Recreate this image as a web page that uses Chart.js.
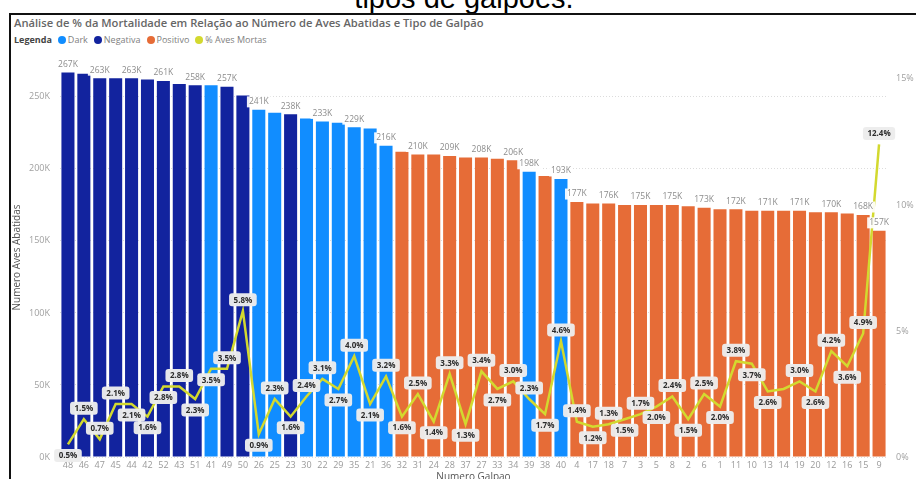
<!DOCTYPE html>
<html>
<head>
<meta charset="utf-8">
<script src="https://cdn.jsdelivr.net/npm/chart.js@4.4.1/dist/chart.umd.min.js"></script>
<style>
  html, body { margin: 0; padding: 0; background: #fff; width: 916px; height: 479px; overflow: hidden; }
  #cabecalho { position: absolute; left: 6px; width: 916px; top: -16px; text-align: center;
    font: 29px/29px 'Liberation Sans', Arial, sans-serif; color: #000; white-space: nowrap; }
  #moldura { position: absolute; left: 9px; top: 13px; width: 940px; height: 500px;
    border-top: 2px solid #111; border-left: 2px solid #111; }
  #titulo { position: absolute; left: 14px; top: 15px; font: 600 11.2px 'Open Sans', sans-serif;
    color: #666; white-space: nowrap; }
  #legenda { position: absolute; left: 14px; top: 33px; font: 9px 'Open Sans', sans-serif;
    color: #808080; display: flex; align-items: center; white-space: nowrap; }
  #legenda b { color: #444; margin-right: 6px; }
  #legenda span.item { display: flex; align-items: center; margin-right: 6px; }
  #legenda i { display: inline-block; width: 8px; height: 8px; border-radius: 50%; margin-right: 2px; }
  #area { position: absolute; left: 0; top: 0; width: 916px; height: 490px; }
</style>
</head>
<body>
<div id="cabecalho">tipos de galpões.</div>
<div id="moldura"></div>
<div id="titulo">Análise de % da Mortalidade em Relação ao Número de Aves Abatidas e Tipo de Galpão</div>
<div id="legenda"></div>
<div id="area"><canvas id="grafico"></canvas></div>
<script>
// Galpões ordenados pelo número de aves abatidas
const galpoes = ['48','46','47','45','44','42','52','43','51','41','49','50','26','25','23','30','22','29','35','21','36',
  '32','31','24','28','37','27','33','34','39','38','40','4','17','18','7','3','5','8','2','6','1','11','10','13','14',
  '19','20','12','16','15','9'];

const avesAbatidas = [267000,266000,263000,263000,263000,262000,261000,259000,258000,258000,257000,251000,
  241000,239000,238000,235000,233000,232000,229000,228000,216000,212000,210000,210000,209000,208000,208000,
  207000,206000,198000,195000,193000,177000,176000,176000,175000,175000,175000,175000,174000,173000,172000,
  172000,171000,171000,171000,171000,170000,170000,169000,168000,157000];

const tipoGalpao = ['Negativa','Negativa','Negativa','Negativa','Negativa','Negativa','Negativa','Negativa','Negativa',
  'Dark','Negativa','Negativa','Dark','Dark','Negativa','Dark','Dark','Dark','Dark','Dark','Dark',
  'Positivo','Positivo','Positivo','Positivo','Positivo','Positivo','Positivo','Positivo','Dark','Positivo','Dark',
  'Positivo','Positivo','Positivo','Positivo','Positivo','Positivo','Positivo','Positivo','Positivo','Positivo',
  'Positivo','Positivo','Positivo','Positivo','Positivo','Positivo','Positivo','Positivo','Positivo','Positivo'];

const pctAvesMortas = [0.5,1.5,0.7,2.1,2.1,1.6,2.8,2.8,2.3,3.5,3.5,5.8,0.9,2.3,1.6,2.4,3.1,2.7,4.0,2.1,3.2,
  1.6,2.5,1.4,3.3,1.3,3.4,2.7,3.0,2.3,1.7,4.6,1.4,1.2,1.3,1.5,1.7,2.0,2.4,1.5,2.5,2.0,3.8,3.7,2.6,2.7,
  3.0,2.6,4.2,3.6,4.9,12.4];

// marcas dos eixos
const ticksAves = [0, 50000, 100000, 150000, 200000, 250000];
const ticksPct = [0, 5, 10, 15];

// posição do rótulo da linha: A = acima, B = abaixo, '' = sem rótulo
const posRotulo = ['B','A','A','A','B','B','B','A','B','B','A','A','B','A','B','A','A','B','A','B','A',
  'B','A','B','A','B','A','B','A','A','B','A','A','B','A','B','A','B','A','B','A','B','A','B','B','',
  'A','B','A','B','A','A'];

const coresTipo = { Dark: '#118DFF', Negativa: '#12239E', Positivo: '#E66C37' };
const corLinha = '#d3d92f';
const fonte = "'Open Sans', sans-serif";

// legenda
const legenda = document.getElementById('legenda');
legenda.innerHTML = '<b>Legenda</b>' +
  ['Dark', 'Negativa', 'Positivo'].map(t => `<span class="item"><i style="background:${coresTipo[t]}"></i>${t}</span>`).join('') +
  `<span class="item"><i style="background:${corLinha}"></i>% Aves Mortas</span>`;

function caixaArredondada(ctx, x, y, w, h, r) {
  ctx.beginPath();
  ctx.moveTo(x + r, y);
  ctx.arcTo(x + w, y, x + w, y + h, r);
  ctx.arcTo(x + w, y + h, x, y + h, r);
  ctx.arcTo(x, y + h, x, y, r);
  ctx.arcTo(x, y, x + w, y, r);
  ctx.closePath();
}

// rótulos das barras (sem sobreposição) e da linha de mortalidade
const rotulosPlugin = {
  id: 'rotulos',
  afterDatasetsDraw(chart) {
    const ctx = chart.ctx;
    const linha = chart.getDatasetMeta(0);
    const barras = chart.getDatasetMeta(1);
    ctx.save();
    ctx.textAlign = 'center';
    ctx.textBaseline = 'middle';

    ctx.font = '8.5px ' + fonte;
    let ultimo = null;
    barras.data.forEach((bar, i) => {
      const txt = Math.round(avesAbatidas[i] / 1000) + 'K';
      const w = ctx.measureText(txt).width + 4, h = 11;
      const x = bar.x, y = bar.y - 8;
      if (ultimo && Math.abs(x - ultimo.x) < (w + ultimo.w) / 2 && Math.abs(y - ultimo.y) < h) return;
      ctx.fillStyle = 'rgba(255,255,255,0.92)';
      ctx.fillRect(x - w / 2, y - h / 2, w, h);
      ctx.fillStyle = '#8c8c8c';
      ctx.fillText(txt, x, y);
      ultimo = { x, y, w };
    });

    ctx.font = 'bold 8px ' + fonte;
    linha.data.forEach((pt, i) => {
      const pos = posRotulo[i];
      if (!pos) return;
      const txt = pctAvesMortas[i].toFixed(1) + '%';
      const w = ctx.measureText(txt).width + 9, h = 13;
      const y = pos === 'A' ? pt.y - 11 : pt.y + 11;
      caixaArredondada(ctx, pt.x - w / 2, y - h / 2, w, h, 3);
      ctx.fillStyle = 'rgba(236,236,236,0.97)';
      ctx.fill();
      ctx.fillStyle = '#2b2b2b';
      ctx.fillText(txt, pt.x, y + 0.5);
    });
    ctx.restore();
  }
};

new Chart(document.getElementById('grafico'), {
  data: {
    labels: galpoes,
    datasets: [
      {
        type: 'line',
        label: '% Aves Mortas',
        data: pctAvesMortas,
        yAxisID: 'y1',
        borderColor: corLinha,
        borderWidth: 2.5,
        pointRadius: 0,
        tension: 0,
        order: 0
      },
      {
        type: 'bar',
        label: 'Numero Aves Abatidas',
        data: avesAbatidas,
        yAxisID: 'y',
        backgroundColor: tipoGalpao.map(t => coresTipo[t]),
        barPercentage: 1,
        categoryPercentage: 0.82,
        order: 1
      }
    ]
  },
  options: {
    responsive: true,
    maintainAspectRatio: false,
    animation: false,
    layout: { padding: { top: 58, left: 8, right: 0, bottom: 0 } },
    plugins: { legend: { display: false }, tooltip: { enabled: false } },
    scales: {
      x: {
        grid: { display: false, drawTicks: false },
        border: { display: false },
        ticks: { autoSkip: false, maxRotation: 0, minRotation: 0, padding: 3, color: '#9a9a9a', font: { size: 9, family: fonte } },
        title: { display: true, text: 'Numero Galpao', color: '#555', font: { size: 10, family: fonte }, padding: { top: 0, bottom: 7 } },
        afterFit(s) { s.height = 33; }
      },
      y: {
        position: 'left',
        min: 0,
        max: 277000,
        grid: { color: '#dcdcdc', drawTicks: false },
        border: { display: false, dash: [1, 2] },
        ticks: { padding: 10, color: '#a0a0a0', font: { size: 9, family: fonte }, callback: v => (v / 1000) + 'K' },
        afterBuildTicks(s) { s.ticks = ticksAves.map(v => ({ value: v })); },
        title: { display: true, text: 'Numero Aves Abatidas', color: '#555', font: { size: 10, family: fonte }, padding: { top: 3, bottom: 0 } },
        afterFit(s) { s.width = 52; }
      },
      y1: {
        position: 'right',
        min: 0,
        max: 15.83,
        grid: { display: false, drawTicks: false },
        border: { display: false },
        ticks: { padding: 9, color: '#a0a0a0', font: { size: 9, family: fonte }, callback: v => v + '%' },
        afterBuildTicks(s) { s.ticks = ticksPct.map(v => ({ value: v })); },
        afterFit(s) { s.width = 29; }
      }
    }
  },
  plugins: [rotulosPlugin]
});
</script>
</body>
</html>
